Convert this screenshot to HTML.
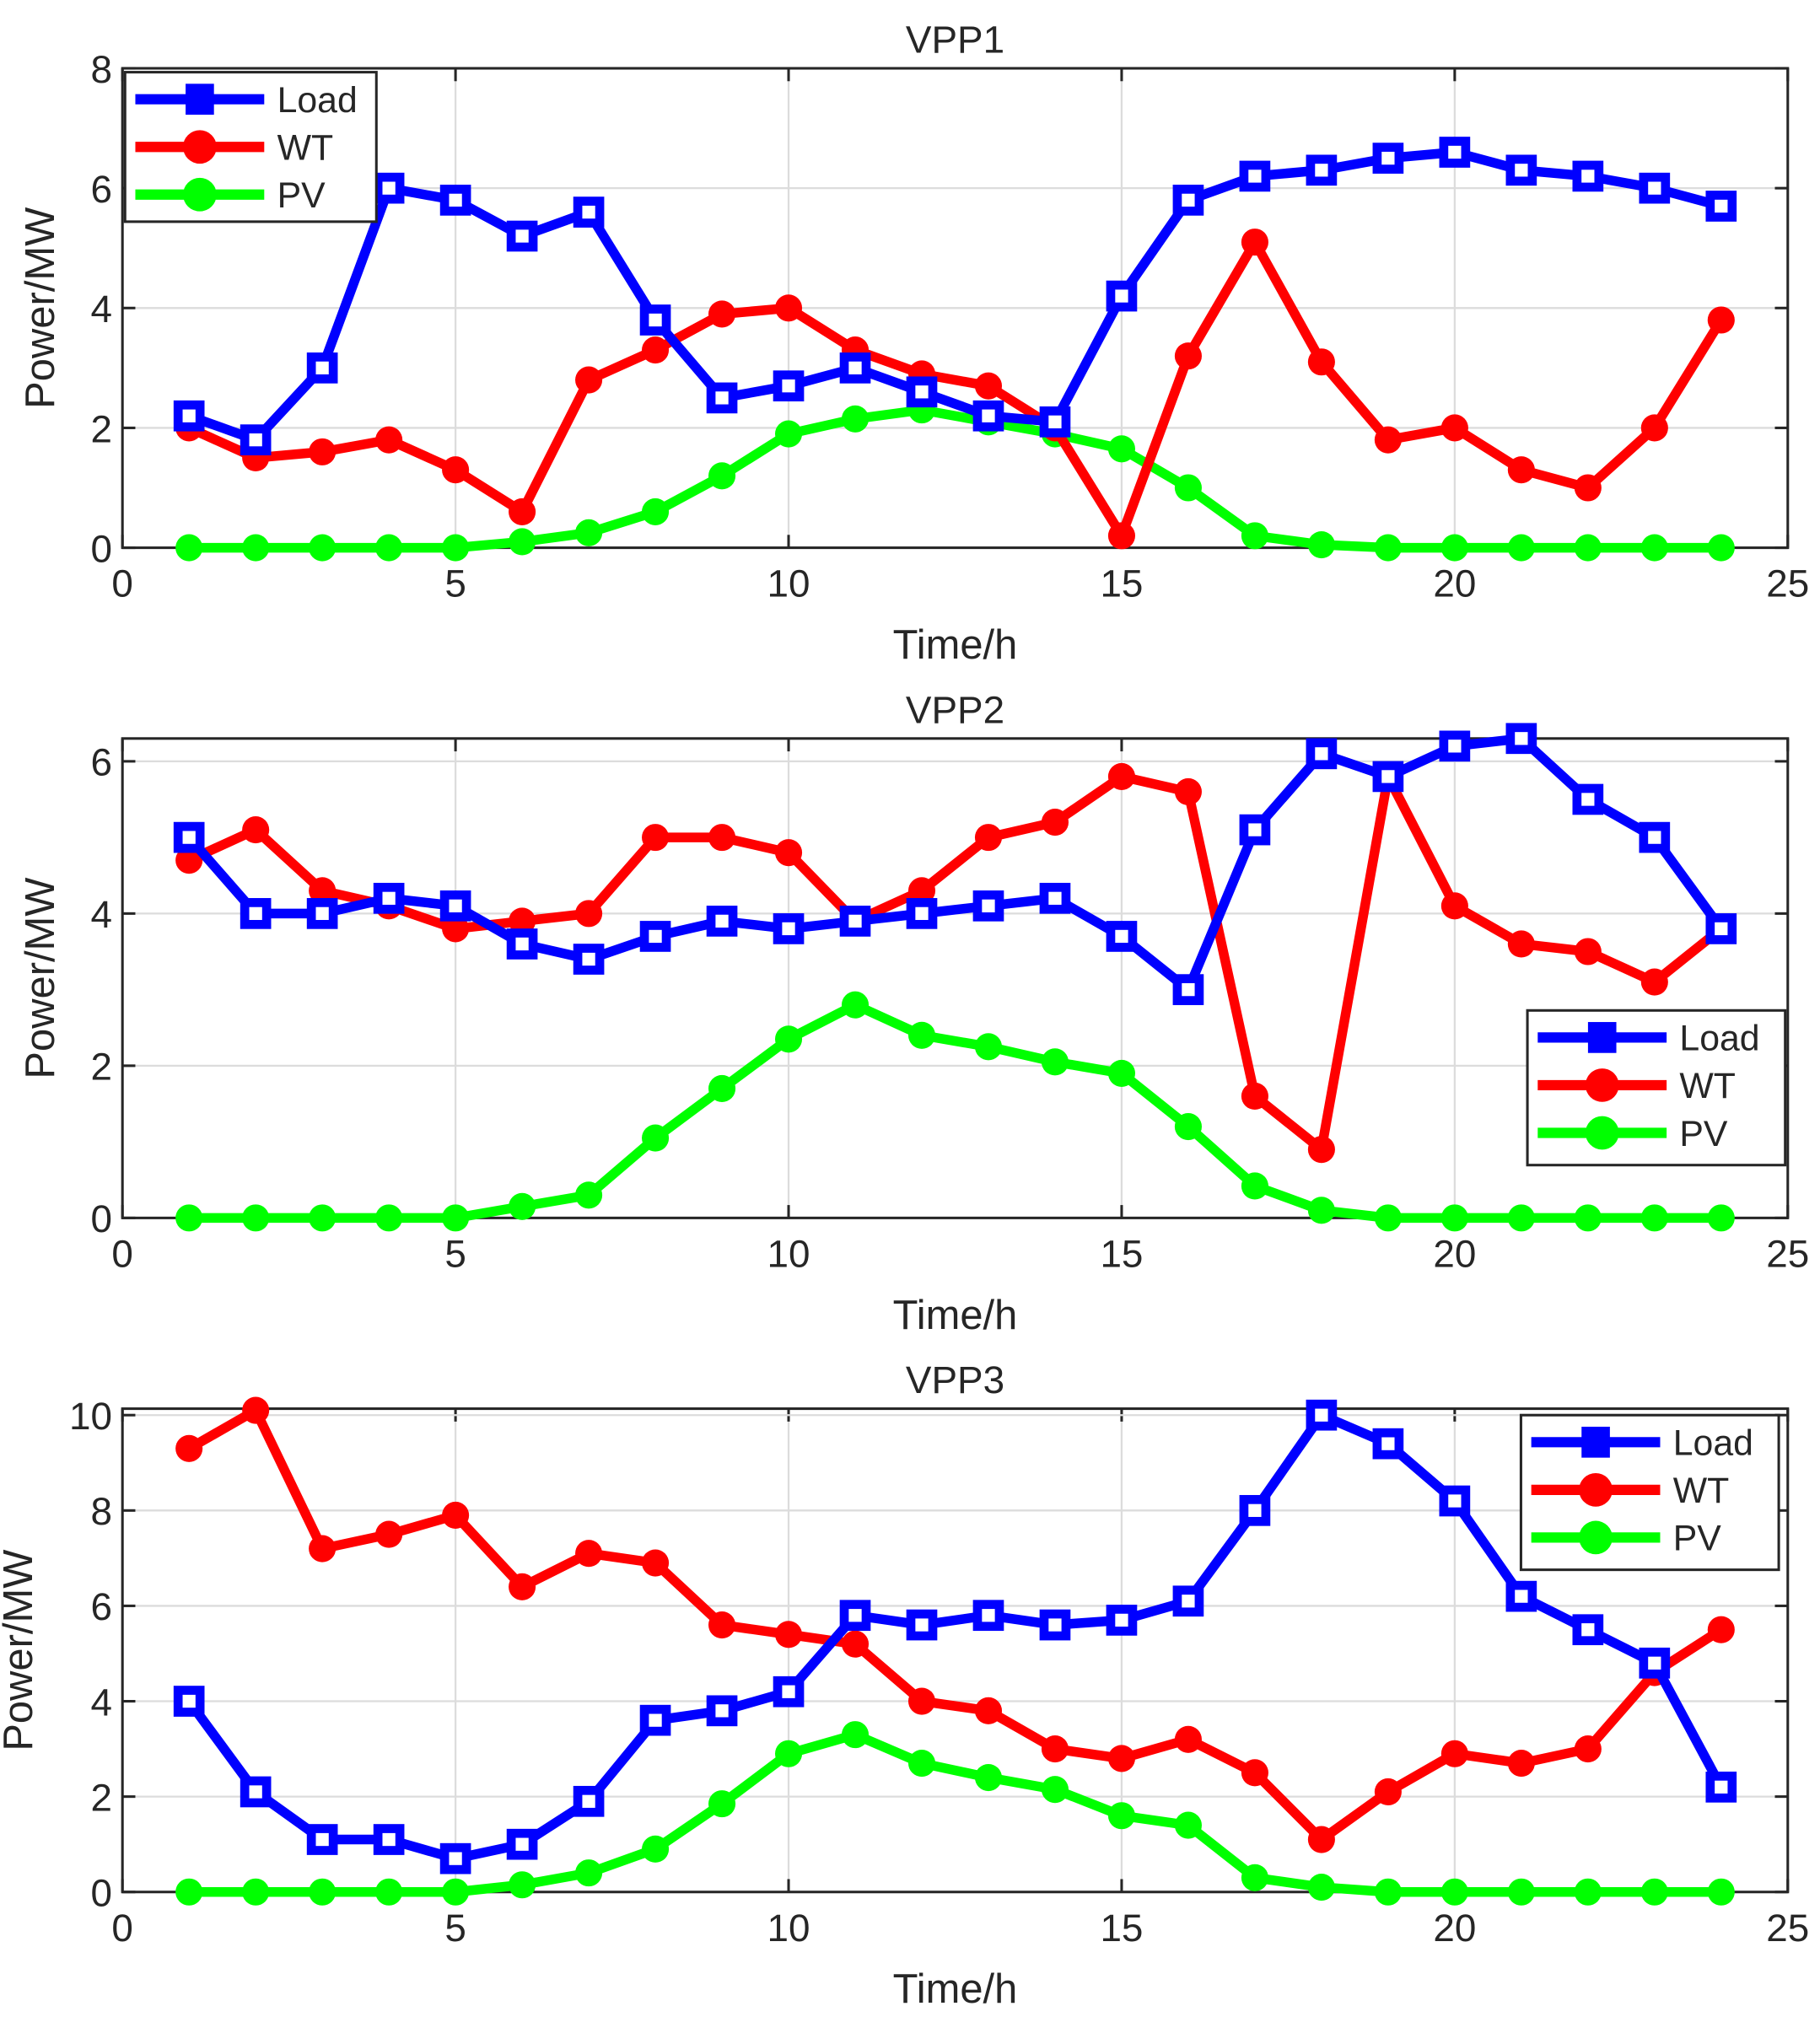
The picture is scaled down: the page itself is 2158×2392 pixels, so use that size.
<!DOCTYPE html>
<html><head><meta charset="utf-8"><style>
html,body{margin:0;padding:0;background:#fff}
svg{display:block}
text{font-family:"Liberation Sans",Arial,sans-serif;fill:#262626}
</style></head><body>
<svg id="chart" width="2158" height="2392" viewBox="0 0 1412 1565" preserveAspectRatio="none" xmlns="http://www.w3.org/2000/svg"></svg>
<script>
const hours=[1,2,3,4,5,6,7,8,9,10,11,12,13,14,15,16,17,18,19,20,21,22,23,24];
const xTicks=[0,5,10,15,20,25];
const vpp1Load=[2.2,1.8,3.0,6.0,5.8,5.2,5.6,3.8,2.5,2.7,3.0,2.6,2.2,2.1,4.2,5.8,6.2,6.3,6.5,6.6,6.3,6.2,6.0,5.7];
const vpp1WT=[2.0,1.5,1.6,1.8,1.3,0.6,2.8,3.3,3.9,4.0,3.3,2.9,2.7,2.0,0.2,3.2,5.1,3.1,1.8,2.0,1.3,1.0,2.0,3.8];
const vpp1PV=[0,0,0,0,0,0.1,0.25,0.6,1.2,1.9,2.15,2.3,2.1,1.9,1.65,1.0,0.2,0.05,0,0,0,0,0,0];
const vpp2Load=[5.0,4.0,4.0,4.2,4.1,3.6,3.4,3.7,3.9,3.8,3.9,4.0,4.1,4.2,3.7,3.0,5.1,6.1,5.8,6.2,6.3,5.5,5.0,3.8];
const vpp2WT=[4.7,5.1,4.3,4.1,3.8,3.9,4.0,5.0,5.0,4.8,3.9,4.3,5.0,5.2,5.8,5.6,1.6,0.9,5.8,4.1,3.6,3.5,3.1,3.8];
const vpp2PV=[0,0,0,0,0,0.15,0.3,1.05,1.7,2.35,2.8,2.4,2.25,2.05,1.9,1.2,0.42,0.1,0,0,0,0,0,0];
const vpp3Load=[4.0,2.1,1.1,1.1,0.7,1.0,1.9,3.6,3.8,4.2,5.8,5.6,5.8,5.6,5.7,6.1,8.0,10.0,9.4,8.2,6.2,5.5,4.8,2.2];
const vpp3WT=[9.3,10.1,7.2,7.5,7.9,6.4,7.1,6.9,5.6,5.4,5.2,4.0,3.8,3.0,2.8,3.2,2.5,1.1,2.1,2.9,2.7,3.0,4.6,5.5];
const vpp3PV=[0,0,0,0,0,0.15,0.4,0.9,1.85,2.9,3.3,2.7,2.4,2.15,1.6,1.4,0.3,0.1,0,0,0,0,0,0];
const yTicks1=[0,2,4,6,8];
const yTicks2=[0,2,4,6];
const yTicks3=[0,2,4,6,8,10];

const NS="http://www.w3.org/2000/svg";
const svg=document.getElementById('chart');
function mk(tag,attrs,parent,txt){const e=document.createElementNS(NS,tag);for(const k in attrs)e.setAttribute(k,attrs[k]);if(txt!==undefined)e.textContent=txt;(parent||svg).appendChild(e);return e;}

const panels=[
 {id:'vpp1',title:'VPP1',top:53,bot:425,ymax:8,yt:yTicks1,load:vpp1Load,wt:vpp1WT,pv:vpp1PV,ylx:42,leg:[97,56,195,116]},
 {id:'vpp2',title:'VPP2',top:573,bot:945,ymax:6.3,yt:yTicks2,load:vpp2Load,wt:vpp2WT,pv:vpp2PV,ylx:42,leg:[1185,784,200,120]},
 {id:'vpp3',title:'VPP3',top:1093,bot:1468,ymax:10.135,yt:yTicks3,load:vpp3Load,wt:vpp3WT,pv:vpp3PV,ylx:25,leg:[1180,1098,200,120]}
];
const L=95,R=1387;
panels.forEach(p=>{
 const g=mk('g',{});
 
 
 const X=v=>L+(v/25)*(R-L);
 const Y=v=>p.bot-(v/p.ymax)*(p.bot-p.top);
 mk('rect',{x:L,y:p.top,width:R-L,height:p.bot-p.top,fill:'#fff'},g);
 xTicks.forEach(t=>{
  const gl=mk('line',{x1:X(t),x2:X(t),y1:p.top,y2:p.bot,stroke:'#dcdcdc','stroke-width':1.5},g);
  
  mk('line',{x1:X(t),x2:X(t),y1:p.bot,y2:p.bot-10,stroke:'#262626','stroke-width':2},g);
  mk('line',{x1:X(t),x2:X(t),y1:p.top,y2:p.top+10,stroke:'#262626','stroke-width':2},g);
  const tl=mk('text',{x:X(t),y:p.bot+38,'font-size':30,'text-anchor':'middle'},g,String(t));
  
 });
 p.yt.forEach(t=>{
  mk('line',{x1:L,x2:R,y1:Y(t),y2:Y(t),stroke:'#dcdcdc','stroke-width':1.5},g);
  mk('line',{x1:L,x2:L+10,y1:Y(t),y2:Y(t),stroke:'#262626','stroke-width':2},g);
  mk('line',{x1:R,x2:R-10,y1:Y(t),y2:Y(t),stroke:'#262626','stroke-width':2},g);
  const tl=mk('text',{x:L-8,y:Y(t)+11,'font-size':30,'text-anchor':'end'},g,String(t));
  
 });
 mk('rect',{x:L,y:p.top,width:R-L,height:p.bot-p.top,fill:'none',stroke:'#262626','stroke-width':2},g);
 const series=[[p.pv,'#00ff00','c','pv'],[p.wt,'#ff0000','c','wt'],[p.load,'#0000ff','s','load']];
 series.forEach(([d,c,m,n])=>{
  const pl=mk('polyline',{points:d.map((v,i)=>X(hours[i])+','+Y(v)).join(' '),fill:'none',stroke:c,'stroke-width':7.5,'stroke-linejoin':'round'},g);
  
  d.forEach((v,i)=>{
   let e;
   if(m==='c') e=mk('circle',{cx:X(hours[i]),cy:Y(v),r:10.5,fill:c},g);
   else e=mk('rect',{x:X(hours[i])-8.5,y:Y(v)-8.5,width:17,height:17,fill:'#fff',stroke:c,'stroke-width':7},g);
   
  });
 });
 const tt=mk('text',{x:(L+R)/2,y:p.top-12,'font-size':30,'text-anchor':'middle',fill:'#000'},g,p.title);
 
 const xl=mk('text',{x:(L+R)/2,y:p.bot+86,'font-size':32,'text-anchor':'middle'},g,'Time/h');
 
 const yc=(p.top+p.bot)/2;
 const yl=mk('text',{x:p.ylx,y:yc,'font-size':32,'text-anchor':'middle',transform:'rotate(-90 '+p.ylx+' '+yc+')'},g,'Power/MW');
 
 const [lx,ly,lw,lh]=p.leg;
 const lg=mk('g',{},g);
 
 mk('rect',{x:lx,y:ly,width:lw,height:lh,fill:'#fff',stroke:'#262626','stroke-width':2},lg);
 [['Load','#0000ff','s'],['WT','#ff0000','c'],['PV','#00ff00','c']].forEach(([n,c,m],i)=>{
  const cy=ly+21+i*37;
  const le=mk('g',{},lg);
  
  mk('line',{x1:lx+8,x2:lx+108,y1:cy,y2:cy,stroke:c,'stroke-width':8},le);
  if(m==='s') mk('rect',{x:lx+47,y:cy-12,width:22,height:24,fill:c},le);
  else mk('circle',{cx:lx+58,cy:cy,r:13,fill:c},le);
  mk('text',{x:lx+118,y:cy+10,'font-size':28,fill:'#000'},le,n);
 });
});
</script>
</body></html>
